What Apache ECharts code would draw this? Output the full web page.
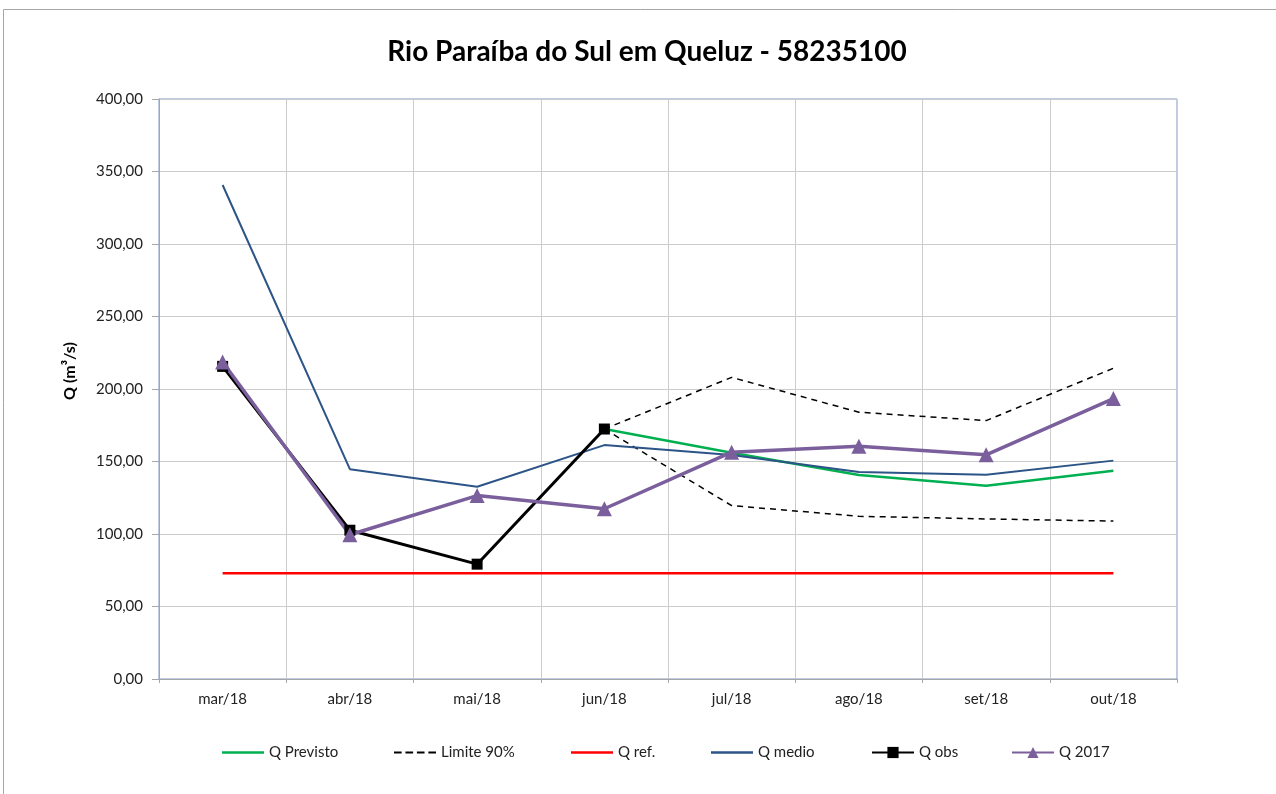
<!DOCTYPE html>
<html>
<head>
<meta charset="utf-8">
<script src="https://cdn.jsdelivr.net/npm/echarts@6/dist/echarts.min.js"></script>
<style>
  html, body { margin: 0; padding: 0; background: #fff; }
  #chart { width: 1276px; height: 794px; }
</style>
</head>
<body>
<div id="chart"></div>
<script>
// Monthly discharge at Queluz (m³/s)
const months = ['mar/18', 'abr/18', 'mai/18', 'jun/18', 'jul/18', 'ago/18', 'set/18', 'out/18'];
const qPrevisto = [null, null, null, 172.4, 156.0, 140.7, 133.3, 143.6];
const limiteSup = [null, null, null, 172.4, 208.0, 184.0, 178.2, 214.3];
const limiteInf = [null, null, null, 172.4, 119.6, 112.2, 110.4, 108.9];
const qRef = [73.0, 73.0, 73.0, 73.0, 73.0, 73.0, 73.0, 73.0];
const qMedio = [340.7, 144.7, 132.6, 161.3, 154.5, 142.7, 140.8, 150.6];
const qObs = [215.6, 102.6, 79.2, 172.4, null, null, null, null];
const q2017 = [218.6, 99.5, 126.5, 117.4, 156.4, 160.6, 154.6, 193.4];

const FONT = 'Lato';
const chart = echarts.init(document.getElementById('chart'));

// plain line swatches for the series drawn without markers
const SOLID_ICON = 'path://M0,0H42V2.5H0Z';
const DASH_ICON = 'path://M0,0H6V1.6H0Z M9,0H15V1.6H9Z M18,0H24V1.6H18Z M27,0H33V1.6H27Z';

function legendAt(name, left, icon) {
  const item = icon ? { name: name, icon: icon } : name;
  return {
    data: [item],
    left: left,
    top: 745,
    padding: 0,
    itemWidth: 42,
    itemHeight: 14,
    itemGap: 0,
    textStyle: { fontFamily: FONT, fontSize: 15, color: '#222' },
    selectedMode: false
  };
}

chart.setOption({
  animation: false,
  backgroundColor: '#fff',
  grid: {
    left: 159, right: 99, top: 99, bottom: 115,
    show: true, borderColor: '#7f95c6', borderWidth: 1
  },
  graphic: [
    {
      type: 'rect', silent: true, z: -1,
      shape: { x: 3.5, y: 9.5, width: 1400, height: 900 },
      style: { fill: null, stroke: '#a6a6a6', lineWidth: 1 }
    },
    {
      type: 'text', x: 647, y: 52,
      style: {
        text: 'Rio Paraíba do Sul em Queluz - 58235100',
        fontFamily: FONT, fontSize: 28, fontWeight: 'bold', fill: '#000',
        textAlign: 'center', textVerticalAlign: 'middle'
      }
    },
    {
      type: 'text', x: 70, y: 371, rotation: Math.PI / 2,
      style: {
        text: 'Q (m³/s)', fontFamily: FONT, fontSize: 16, fontWeight: 'bold',
        fill: '#000', textAlign: 'center', textVerticalAlign: 'middle'
      }
    }
  ],
  legend: [
    legendAt('Q Previsto', 222, SOLID_ICON),
    legendAt('Limite 90%', 394, DASH_ICON),
    legendAt('Q ref.', 571, SOLID_ICON),
    legendAt('Q medio', 711, SOLID_ICON),
    legendAt('Q obs', 871),
    legendAt('Q 2017', 1011)
  ],
  xAxis: {
    type: 'category',
    data: months,
    boundaryGap: true,
    axisLine: { show: true, lineStyle: { color: '#a6a6a6', width: 1 } },
    axisTick: { show: true, length: 4, lineStyle: { color: '#a6a6a6' } },
    splitLine: { show: true, lineStyle: { color: '#cccccc', width: 1 } },
    axisLabel: { fontFamily: FONT, fontSize: 15, color: '#222', margin: 13 }
  },
  yAxis: {
    type: 'value',
    min: 0, max: 400, interval: 50,
    axisLine: { show: true, lineStyle: { color: '#a6a6a6', width: 1 } },
    axisTick: { show: true, length: 7, lineStyle: { color: '#a6a6a6' } },
    splitLine: { show: true, lineStyle: { color: '#cccccc', width: 1 } },
    axisLabel: {
      fontFamily: FONT, fontSize: 15, color: '#222', margin: 16,
      formatter: v => v.toFixed(2).replace('.', ',')
    }
  },
  series: [
    {
      name: 'Q Previsto', type: 'line', data: qPrevisto, symbol: 'none',
      lineStyle: { color: '#00b050', width: 2.5 }, itemStyle: { color: '#00b050' }
    },
    {
      name: 'Limite 90%', type: 'line', data: limiteSup, symbol: 'none',
      lineStyle: { color: '#000', width: 1.5, type: [6, 5] }, itemStyle: { color: '#000' }
    },
    {
      name: 'Limite 90%', type: 'line', data: limiteInf, symbol: 'none',
      lineStyle: { color: '#000', width: 1.5, type: [6, 5] }, itemStyle: { color: '#000' }
    },
    {
      name: 'Q ref.', type: 'line', data: qRef, symbol: 'none',
      lineStyle: { color: '#ff0000', width: 2.5 }, itemStyle: { color: '#ff0000' }
    },
    {
      name: 'Q medio', type: 'line', data: qMedio, symbol: 'none',
      lineStyle: { color: '#2c5487', width: 2 }, itemStyle: { color: '#2c5487' }
    },
    {
      name: 'Q obs', type: 'line', data: qObs, symbol: 'rect', symbolSize: 11,
      lineStyle: { color: '#000', width: 3 }, itemStyle: { color: '#000' }
    },
    {
      name: 'Q 2017', type: 'line', data: q2017, symbol: 'triangle', symbolSize: 15,
      lineStyle: { color: '#7a5f9c', width: 3.5 }, itemStyle: { color: '#7a5f9c' }
    }
  ]
});
</script>
</body>
</html>
